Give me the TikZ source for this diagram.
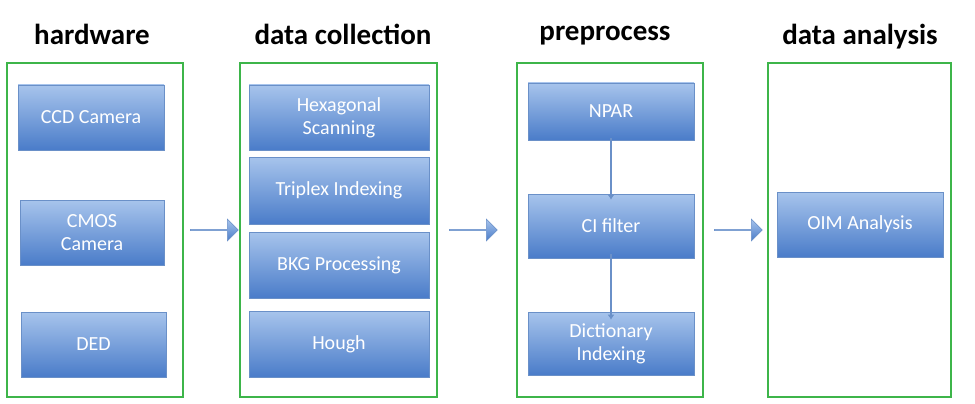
\documentclass[tikz,border=0pt]{standalone}
\usepackage{fontspec}
\setmainfont{Carlito}
\usetikzlibrary{shapes.arrows,arrows.meta}
\definecolor{gb}{HTML}{3DB54A}
\definecolor{bt}{HTML}{A7C4EC}
\definecolor{bb}{HTML}{4A7CC9}
\definecolor{bd}{HTML}{6A90C8}
\begin{document}
\begin{tikzpicture}[x=1pt,y=-1pt,
  col/.style={draw=gb,line width=2.5pt},
  blk/.style={draw=bd,line width=0.6pt,top color=bt,bottom color=bb,text=white,font=\fontsize{20}{23}\selectfont,align=center,inner sep=0pt},
  ttl/.style={font=\bfseries\fontsize{29}{32}\selectfont,anchor=base},
  big/.style={single arrow,draw=bd,line width=0.5pt,top color=bt,bottom color=bb,minimum height=48pt,minimum width=22pt,single arrow head extend=4pt,inner sep=0pt,shading angle=0},
  sm/.style={draw=bd,line width=2pt,-{Latex[length=5pt,width=7pt]}}]
\useasboundingbox (0,0) rectangle (975,404);
% titles
\node[ttl] (t1) at (92,45) {hardware};
\node[ttl] (t2) at (343,45) {data collection};
\node[ttl] (t3) at (605,41) {preprocess};
\node[ttl] (t4) at (860,45) {data analysis};
% columns
\draw[col] (7,63) rectangle (183,397);
\draw[col] (240,63) rectangle (437,397);
\draw[col] (517,63) rectangle (703,397);
\draw[col] (768,63) rectangle (951,397);
% boxes
\newcommand{\bx}[6]{\node[blk,minimum width=#4-#2,minimum height=#5-#3] (#1) at ({(#2+#4)/2},{(#3+#5)/2}) {#6};}
\bx{ccd}{18}{85}{164}{150}{CCD Camera}
\bx{cmos}{20}{200}{164}{265}{CMOS\\Camera}
\bx{ded}{21}{312}{166}{377}{DED}
\bx{hex}{249}{85}{429}{150}{Hexagonal\\Scanning}
\bx{tri}{249}{157}{429}{224}{Triplex Indexing}
\bx{bkg}{249}{232}{429}{298}{BKG Processing}
\bx{hough}{249}{311}{429}{377}{Hough}
\bx{npar}{528}{83}{694}{140}{NPAR}
\bx{ci}{528}{194}{694}{258}{CI filter}
\bx{dict}{528}{312}{694}{375}{Dictionary\\Indexing}
\bx{oim}{777}{192}{943}{257}{OIM Analysis}
% big arrows
\node[big] (a1) at (214,230) {};
\node[big] (a2) at (473,230) {};
\node[big] (a3) at (738,230) {};
% small arrows
\draw[sm] ([yshift=2pt]npar.south) -- ([yshift=-6pt]ci.north);
\draw[sm] ([yshift=4pt]ci.south) -- ([yshift=-8pt]dict.north);
\end{tikzpicture}
\end{document}
